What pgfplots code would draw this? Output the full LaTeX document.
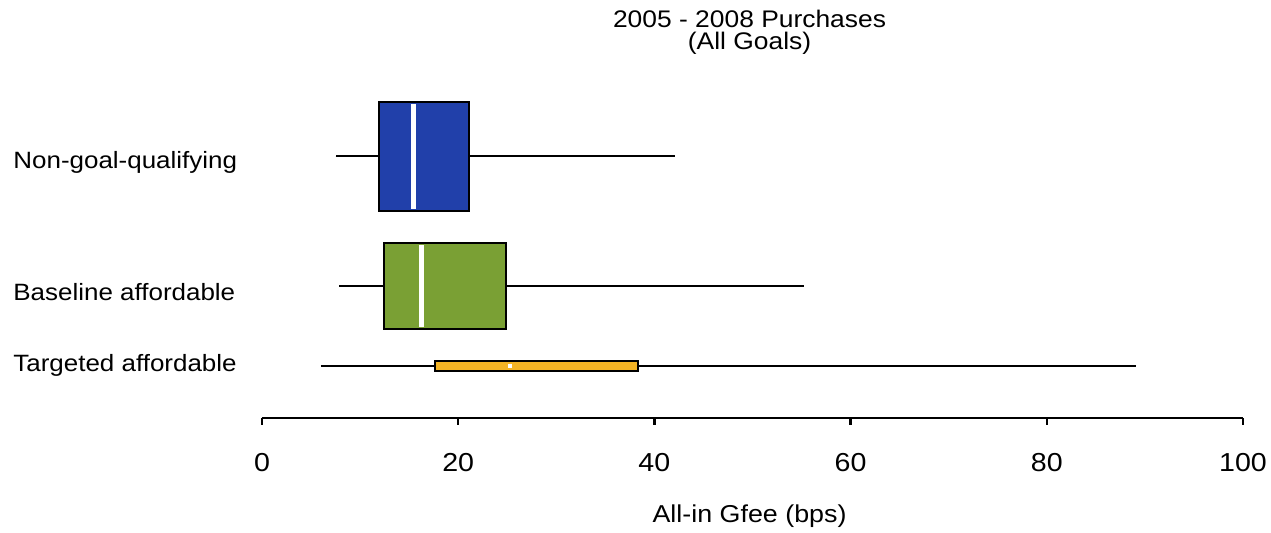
\documentclass[border=0pt]{standalone}
\usepackage{fontspec}
\setmainfont{Liberation Sans}[FakeStretch=1.1]
\usepackage{pgfplots}
\pgfplotsset{compat=1.18}
\usepgfplotslibrary{statistics}
\definecolor{ngblue}{RGB}{33,64,170}
\definecolor{bagreen}{RGB}{122,160,52}
\definecolor{taorange}{RGB}{244,180,36}
\begin{document}
\begin{tikzpicture}
\useasboundingbox (-131pt,-57.5pt) rectangle (504.5pt,209pt);
\begin{axis}[
  scale only axis,
  width=490.5pt, height=169pt,
  xmin=0, xmax=100,
  ymin=-418, ymax=-80,
  axis x line=bottom,
  axis y line=left,
  x axis line style={-, line width=1.2pt},
  y axis line style={draw=none},
  xtick={0,20,40,60,80,100},
  tick align=outside,
  major tick length=3.5pt,
  xtick style={line width=1.2pt, black},
  ytick style={draw=none},
  ytick={-162,-292,-365},
  yticklabels={Non-goal-qualifying,Baseline affordable,Targeted affordable},
  yticklabel style={anchor=west, inner xsep=0pt, xshift=-121pt, font=\fontsize{11.8}{14}\selectfont},
  /pgf/number format/assume math mode=true,
  xticklabel style={anchor=north, yshift=-10.5pt, font=\fontsize{13}{15}\selectfont},
  xlabel={All-in Gfee (bps)},
  xlabel style={font=\fontsize{12.2}{14}\selectfont, at={(axis description cs:0.497,-0.29)}, anchor=center},
  clip=false,
  boxplot/draw direction=x,
  boxplot/whisker extend=0,
  boxplot/every median/.style={draw=white, line width=2.5pt, shorten >=1.2pt, shorten <=1.2pt},
  boxplot/every whisker/.style={black, line width=1pt},
]
\addplot[boxplot prepared={draw position=-156.5, box extend=109,
  lower whisker=7.5, lower quartile=11.9, median=15.4,
  upper quartile=21.1, upper whisker=42.1},
  fill=ngblue, draw=black, line width=1pt] coordinates {};
\addplot[boxplot prepared={draw position=-286, box extend=86,
  lower whisker=7.9, lower quartile=12.4, median=16.3,
  upper quartile=24.9, upper whisker=55.2},
  fill=bagreen, draw=black, line width=1pt] coordinates {};
\addplot[boxplot prepared={draw position=-366, box extend=10,
  lower whisker=6.0, lower quartile=17.6, median=25.3,
  upper quartile=38.3, upper whisker=89.1},
  fill=taorange, draw=black, line width=1pt,
  boxplot/every median/.style={draw=white, line width=2pt, shorten >=1.5pt, shorten <=1.5pt}] coordinates {};
\node[font=\fontsize{12}{14}\selectfont, anchor=center] at (axis cs:49.7,-19) {2005 - 2008 Purchases};
\node[font=\fontsize{12}{14}\selectfont, anchor=center] at (axis cs:49.7,-43) {(All Goals)};
\end{axis}
\end{tikzpicture}
\end{document}
